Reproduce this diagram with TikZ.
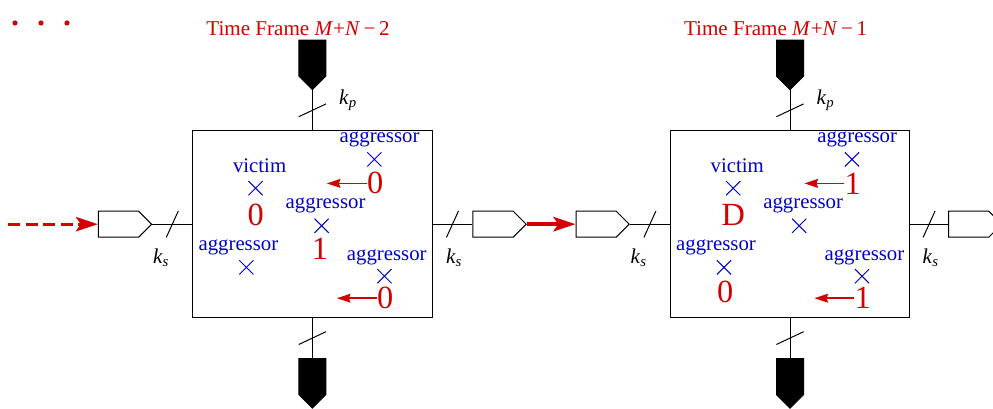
\documentclass[tikz,border=0pt]{standalone}
\usepackage{fontspec}
\setmainfont{Liberation Serif}
\usepackage{xcolor}
\usepackage{tikz}
\usetikzlibrary{shapes.symbols, shapes.misc, arrows.meta, positioning, calc}

\definecolor{fred}{RGB}{210,0,0}
\definecolor{fblue}{RGB}{0,0,205}

\begin{document}
\begin{tikzpicture}[
    node distance=1cm,
    tfbox/.style={rectangle, draw, line width=0.7pt, minimum width=5.98cm, minimum height=4.67cm, inner sep=0pt},
    regin/.style={signal, signal to=east, draw, fill=white, line width=0.7pt, minimum width=1.33cm, minimum height=0.65cm, inner sep=0pt},
    pinblk/.style={signal, signal to=south, draw, fill=black, line width=0.7pt, minimum width=0.675cm, minimum height=0.9cm, inner sep=0pt},
    title/.style={text=fred, font=\fontsize{15}{17}\selectfont, inner sep=0pt},
    lbl/.style={text=fblue, font=\fontsize{14.8}{16}\selectfont, inner sep=0pt},
    xmk/.style={cross out, draw=fblue, line width=0.7pt, minimum size=0.33cm, inner sep=0pt},
    val/.style={text=fred, font=\fontsize{23}{25}\selectfont, inner sep=0pt},
    kl/.style={font=\fontsize{15}{17}\selectfont, inner sep=0pt},
    dot/.style={circle, fill=fred, minimum size=0.13cm, inner sep=0pt},
    wire/.style={line width=0.7pt},
    sarr/.style={-{Stealth[length=0.34cm, width=0.22cm, inset=0.04cm]}, draw=fred, line width=1.1pt},
    barr/.style={-{Stealth[length=0.55cm, width=0.36cm, inset=0.12cm]}, draw=fred, line width=2.8pt},
    darr/.style={-{Stealth[length=0.55cm, width=0.36cm, inset=0.12cm]}, draw=fred, line width=2.2pt, dash pattern=on 0.3cm off 0.14cm}
]
\useasboundingbox (0,0) rectangle (24.825,10.225);

\node[dot] (dot1) at (0.375,9.65) {};
\node[dot] (dot2) at (1.025,9.65) {};
\node[dot] (dot3) at (1.675,9.65) {};

% the two time frames
\node[tfbox] (box1) at (7.81,4.62) {};
\node[tfbox] (box2) at (19.75,4.62) {};

\node[pinblk, above=of box1] (pin1) {};
\node[pinblk, below=of box1] (pout1) {};
\node[pinblk, above=of box2] (pin2) {};
\node[pinblk, below=of box2] (pout2) {};

\node[title, above=0.08cm of pin1, xshift=-0.36cm] (tf1) {Time Frame \textit{M}+\textit{N}\,−\,2};
\node[title, above=0.08cm of pin2, xshift=-0.36cm] (tf2) {Time Frame \textit{M}+\textit{N}\,−\,1};

\node[regin, left=of box1] (reg0) {};
\node[regin, right=of box1] (reg1) {};
\node[regin, left=of box2] (reg2) {};
\node[regin, right=0.95cm of box2] (reg3) {};
\coordinate (start) at (0.2,4.62);

\draw[darr] (start) -- (reg0);
\draw[barr] (reg1) -- (reg2);

\draw[wire] (reg0) -- coordinate[midway] (s1) (box1);
\draw[wire] (box1) -- coordinate[midway] (s2) (reg1);
\draw[wire] (reg2) -- coordinate[midway] (s3) (box2);
\draw[wire] (box2) -- coordinate[midway] (s4) (reg3);
\draw[wire] (pin1) -- coordinate[midway] (s5) (box1);
\draw[wire] (box1) -- coordinate[midway] (s6) (pout1);
\draw[wire] (pin2) -- coordinate[midway] (s7) (box2);
\draw[wire] (box2) -- coordinate[midway] (s8) (pout2);

% bus widths
\draw[wire] (s1) +(-0.15,-0.33) -- +(0.15,0.33);
\draw[wire] (s2) +(-0.15,-0.33) -- +(0.15,0.33);
\draw[wire] (s3) +(-0.15,-0.33) -- +(0.15,0.33);
\draw[wire] (s4) +(-0.15,-0.33) -- +(0.15,0.33);
\draw[wire] (s5) +(-0.34,-0.16) -- +(0.34,0.16);
\draw[wire] (s6) +(-0.34,-0.16) -- +(0.34,0.16);
\draw[wire] (s7) +(-0.34,-0.16) -- +(0.34,0.16);
\draw[wire] (s8) +(-0.34,-0.16) -- +(0.34,0.16);

\node[kl] (ks1) at ($(s1)+(-0.28,-0.85)$) {\textit{k}\textsubscript{\textit{s}}};
\node[kl] (ks2) at ($(s2)+(0.04,-0.85)$) {\textit{k}\textsubscript{\textit{s}}};
\node[kl] (ks3) at ($(s3)+(-0.28,-0.85)$) {\textit{k}\textsubscript{\textit{s}}};
\node[kl] (ks4) at ($(s4)+(0.04,-0.85)$) {\textit{k}\textsubscript{\textit{s}}};
\node[kl] (kp1) at ($(s5)+(0.89,0.25)$) {\textit{k}\textsubscript{\textit{p}}};
\node[kl] (kp2) at ($(s7)+(0.89,0.25)$) {\textit{k}\textsubscript{\textit{p}}};

% frame M+N-2
\begin{scope}[shift={(box1.center)}]
\node[lbl] (vic1) at (-1.32,1.45) {victim};
\node[xmk] (vic1x) at (-1.42,0.9) {};
\node[val] (vic1v) at (-1.42,0.24) {0};
\node[lbl] (agt1) at (1.68,2.11) {aggressor};
\node[xmk] (agt1x) at (1.55,1.62) {};
\node[val] (agt1v) at (1.57,1.02) {0};
\node[lbl] (agm1) at (0.33,0.48) {aggressor};
\node[xmk] (agm1x) at (0.23,-0.04) {};
\node[val] (agm1v) at (0.19,-0.61) {1};
\node[lbl] (agl1) at (-1.85,-0.59) {aggressor};
\node[xmk] (agl1x) at (-1.65,-1.08) {};
\node[lbl] (agb1) at (1.86,-0.83) {aggressor};
\node[xmk] (agb1x) at (1.8,-1.3) {};
\node[val] (agb1v) at (1.82,-1.85) {0};
\end{scope}
\draw[sarr] (agt1v.west) -- ++(-1.0,0);
\draw[sarr] (agb1v.west) -- ++(-1.0,0);

% frame M+N-1
\begin{scope}[shift={(box2.center)}]
\node[lbl] (vic2) at (-1.32,1.45) {victim};
\node[xmk] (vic2x) at (-1.42,0.9) {};
\node[val] (vic2v) at (-1.42,0.24) {D};
\node[lbl] (agt2) at (1.68,2.11) {aggressor};
\node[xmk] (agt2x) at (1.55,1.62) {};
\node[val] (agt2v) at (1.57,1.02) {1};
\node[lbl] (agm2) at (0.33,0.48) {aggressor};
\node[xmk] (agm2x) at (0.23,-0.04) {};
\node[lbl] (agl2) at (-1.85,-0.59) {aggressor};
\node[xmk] (agl2x) at (-1.65,-1.08) {};
\node[val] (agl2v) at (-1.62,-1.69) {0};
\node[lbl] (agb2) at (1.86,-0.83) {aggressor};
\node[xmk] (agb2x) at (1.8,-1.3) {};
\node[val] (agb2v) at (1.82,-1.85) {1};
\end{scope}
\draw[sarr] (agt2v.west) -- ++(-1.0,0);
\draw[sarr] (agb2v.west) -- ++(-1.0,0);

\end{tikzpicture}
\end{document}
